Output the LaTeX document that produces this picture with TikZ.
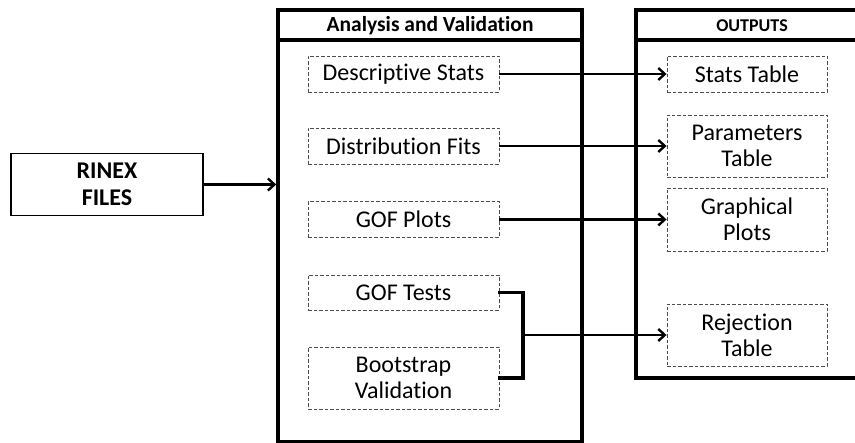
\documentclass[tikz,border=0pt]{standalone}
\usepackage{fontspec}
\setmainfont{Carlito}[Ligatures=NoCommon]
\usetikzlibrary{arrows.meta}
\begin{document}
\begin{tikzpicture}[x=1pt,y=-1pt,
  bigbox/.style={draw, line width=3.6pt, inner sep=0pt},
  dbox/.style={draw=black!70, dashed, dash pattern=on 3.5pt off 2pt, line width=0.9pt, inner sep=0pt, align=center, font=\fontsize{24}{26}\selectfont},
  ttl/.style={font=\bfseries\fontsize{21.5}{24}\selectfont},
  arr/.style={line width=2.6pt, -{Straight Barb[length=6.5pt,width=12pt,line width=2.4pt]}},
  brk/.style={line width=3.8pt, line cap=rect}
]
\useasboundingbox (0,0) rectangle (855,443);
% input
\node[draw, line width=1.8pt, minimum width=192pt, minimum height=62pt, inner sep=0pt, align=center, font=\bfseries\fontsize{24}{27}\selectfont] (rin) at (107,184.5) {RINEX\\FILES};
% analysis box
\node[bigbox, minimum width=304pt, minimum height=432pt] (ana) at (430,226) {};
\node[ttl] (anat) at (430,25.5) {Analysis and Validation};
\coordinate (ah1) at (278,40);
\coordinate (ah2) at (582,40);
\draw[line width=3.6pt] (ah1) -- (ah2);
% outputs box
\node[bigbox, minimum width=228pt, minimum height=368pt] (out) at (750,194) {};
\node[ttl, font=\bfseries\fontsize{18}{21}\selectfont] (outt) at (752,25.5) {OUTPUTS};
\coordinate (oh1) at (636,40);
\coordinate (oh2) at (864,40);
\draw[line width=3.6pt] (oh1) -- (oh2);
% analysis items
\node[dbox, minimum width=191pt, minimum height=36pt] (ds) at (403.5,74) {Descriptive Stats};
\node[dbox, minimum width=191pt, minimum height=36pt] (df) at (403.5,146) {Distribution Fits};
\node[dbox, minimum width=191pt, minimum height=36pt] (gp) at (403.5,219.5) {GOF Plots};
\node[dbox, minimum width=191pt, minimum height=35pt] (gt) at (403.5,292.5) {GOF Tests};
\node[dbox, minimum width=191pt, minimum height=62pt] (bv) at (403.5,378) {Bootstrap\\Validation};
% outputs items
\node[dbox, minimum width=160pt, minimum height=36pt] (st) at (747,74) {Stats Table};
\node[dbox, minimum width=160pt, minimum height=62pt] (pt) at (747,146) {Parameters\\Table};
\node[dbox, minimum width=160pt, minimum height=63pt] (gpl) at (747,219.5) {Graphical\\Plots};
\node[dbox, minimum width=160pt, minimum height=62pt] (rt) at (747,335) {Rejection\\Table};
% connectors
\draw[arr] (rin.east) -- (rin.east -| ana.west);
\draw[arr] (ds.east) -- (ds.east -| st.west);
\draw[arr] (df.east) -- (df.east -| pt.west);
\draw[arr] (gp.east) -- (gp.east -| gpl.west);
\coordinate (bk1) at (523,292.5);
\coordinate (bk2) at (523,378);
\coordinate (bkm) at (523,335);
\draw[brk] (gt.east) -- (bk1) -- (bk2) -- (bv.east);
\draw[arr] (bkm) -- (rt.west);
\end{tikzpicture}
\end{document}
